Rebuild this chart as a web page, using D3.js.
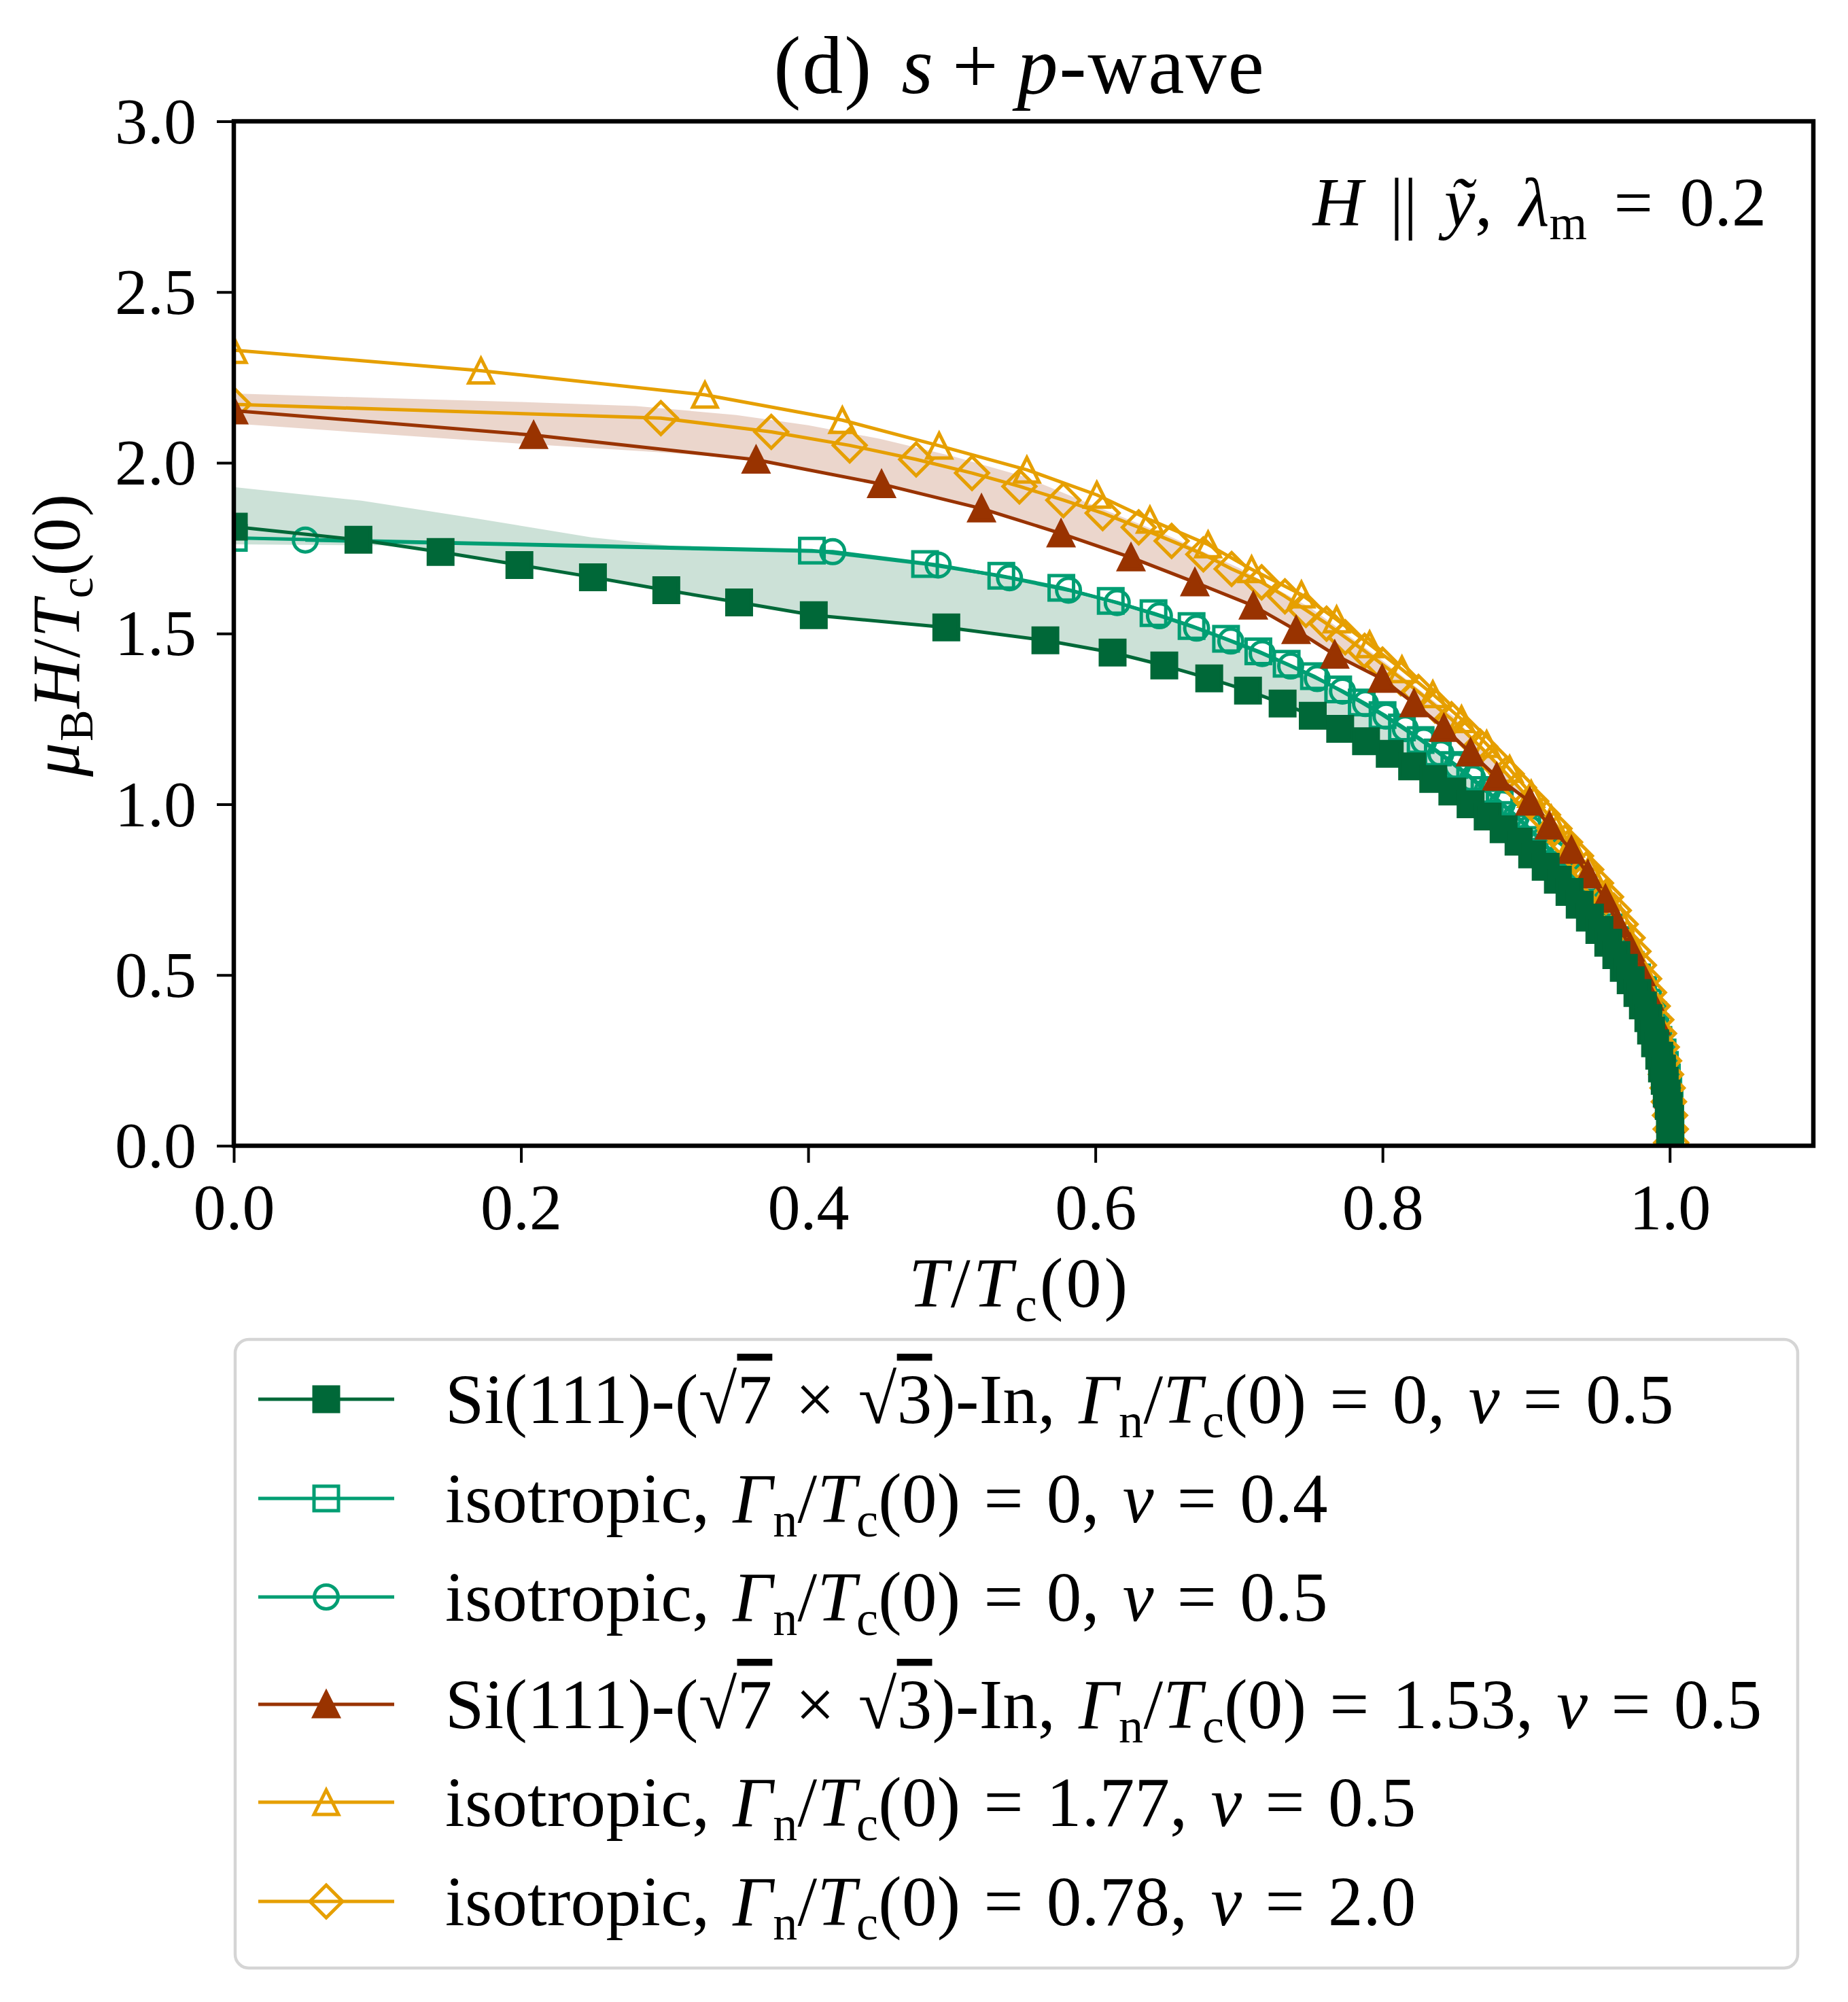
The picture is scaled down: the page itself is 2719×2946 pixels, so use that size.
<!DOCTYPE html>
<html><head><meta charset="utf-8">
<script src="https://cdn.jsdelivr.net/npm/d3@7"></script>
<style>body{margin:0;background:#fff} text{font-family:"Liberation Serif","DejaVu Serif",serif;fill:#000}</style>
</head><body><svg id="c" width="2719" height="2946"></svg>
<script>
// ---------------- data ----------------
const xTicks = [0.0, 0.2, 0.4, 0.6, 0.8, 1.0];
const yTicks = [0.0, 0.5, 1.0, 1.5, 2.0, 2.5, 3.0];

// Si(111)-(√7×√3)-In, Γn/Tc(0)=0, ν=0.5  (filled squares)
const dgT = [0, 0.0868, 0.144, 0.1989, 0.2501, 0.3012, 0.3519, 0.4039, 0.4962, 0.5652, 0.612, 0.648, 0.6793, 0.7063, 0.7304, 0.7514, 0.7705, 0.7885, 0.805, 0.8206, 0.8353, 0.8486, 0.8613, 0.8732, 0.8843, 0.8947, 0.9042, 0.9136, 0.9221, 0.9302, 0.9373, 0.9444, 0.951, 0.9572, 0.9628, 0.968, 0.9728, 0.9775, 0.9813, 0.9851, 0.987, 0.9898, 0.9927, 0.9946, 0.9965, 0.9979, 0.9993, 1.0002, 1.0003, 1.0003];
const dgH = [1.813, 1.7745, 1.7387, 1.7007, 1.6649, 1.6269, 1.591, 1.5536, 1.5178, 1.480, 1.4442, 1.4064, 1.3686, 1.3327, 1.2949, 1.259, 1.221, 1.1847, 1.148, 1.111, 1.074, 1.0375, 1.0, 0.964, 0.927, 0.8906, 0.8534, 0.8169, 0.779, 0.7435, 0.706, 0.668, 0.632, 0.5947, 0.558, 0.521, 0.4846, 0.4474, 0.411, 0.3738, 0.3373, 0.300, 0.2637, 0.2265, 0.190, 0.1528, 0.1164, 0.079, 0.042, 0.005];

// isotropic, Γn/Tc(0)=0, ν=0.4 (open squares)
const tsqT = [0, 0.4026, 0.4814, 0.5345, 0.5763, 0.6107, 0.6405, 0.667, 0.691, 0.7135, 0.7332, 0.7522, 0.7691, 0.7855, 0.800, 0.8135, 0.8265, 0.8385, 0.850, 0.861, 0.871, 0.8816, 0.8917, 0.9008, 0.9098, 0.9178, 0.9257, 0.9326, 0.940, 0.9461, 0.952, 0.9577, 0.9629, 0.9681, 0.9728, 0.9772, 0.9814, 0.9849, 0.9882, 0.990, 0.9921, 0.995, 0.9966, 0.998, 0.999, 0.9999, 1.0003, 1.0005, 1.0004];
const tsqH = [1.78, 1.743, 1.7037, 1.669, 1.634, 1.5954, 1.5596, 1.522, 1.4846, 1.448, 1.4116, 1.375, 1.3363, 1.298, 1.2614, 1.2248, 1.1882, 1.1516, 1.115, 1.0784, 1.0418, 1.0052, 0.9686, 0.932, 0.8954, 0.8588, 0.8222, 0.7856, 0.749, 0.7124, 0.6758, 0.6392, 0.6026, 0.566, 0.5294, 0.4928, 0.4562, 0.4196, 0.383, 0.3464, 0.3098, 0.2732, 0.2366, 0.2, 0.1634, 0.1268, 0.0902, 0.0536, 0.017];

// isotropic, Γn/Tc(0)=0, ν=0.5 (open circles)
const tciT = [0.0498, 0.4171, 0.4905, 0.5402, 0.5813, 0.6152, 0.6446, 0.6705, 0.6943, 0.7162, 0.736, 0.7545, 0.7721, 0.7881, 0.8024, 0.8158, 0.8287, 0.8406, 0.852, 0.8628, 0.8729, 0.8834, 0.8933, 0.9024, 0.9112, 0.9192, 0.9269, 0.9339, 0.9411, 0.9472, 0.953, 0.9586, 0.9638, 0.969, 0.9736, 0.978, 0.982, 0.9855, 0.9885, 0.9904, 0.9926, 0.9953, 0.9969, 0.9982, 0.9992, 1.0, 1.0003, 1.0005, 1.0004];
const tciH = [1.7738, 1.7397, 1.7007, 1.6633, 1.627, 1.5907, 1.552, 1.5158, 1.478, 1.4414, 1.405, 1.368, 1.3314, 1.2948, 1.2582, 1.2216, 1.185, 1.1484, 1.1118, 1.0752, 1.0386, 1.002, 0.9654, 0.9288, 0.8922, 0.8556, 0.819, 0.7824, 0.7458, 0.7092, 0.6726, 0.636, 0.5994, 0.5628, 0.5262, 0.4896, 0.453, 0.4164, 0.3798, 0.3432, 0.3066, 0.27, 0.2334, 0.1968, 0.1602, 0.1236, 0.087, 0.0504, 0.0138];

// Si(111)-(√7×√3)-In, Γn/Tc(0)=1.53, ν=0.5 (filled triangles)
const brT = [0, 0.2088, 0.3637, 0.4511, 0.5207, 0.5761, 0.6248, 0.6693, 0.71, 0.7398, 0.7667, 0.7997, 0.8219, 0.8427, 0.8613, 0.8795, 0.9026, 0.9162, 0.9315, 0.943, 0.9552, 0.9635, 0.9725, 0.98, 0.986, 0.9905, 0.994, 0.9972, 0.9992, 1.0003, 1.0];
const brH = [2.153, 2.081, 2.009, 1.9375, 1.866, 1.793, 1.7227, 1.650, 1.5814, 1.5098, 1.438, 1.367, 1.2955, 1.2232, 1.1516, 1.080, 1.0076, 0.9373, 0.866, 0.7947, 0.723, 0.651, 0.580, 0.508, 0.436, 0.365, 0.293, 0.221, 0.150, 0.078, 0.006];

// isotropic, Γn/Tc(0)=1.77, ν=0.5 (open triangles)
const otT = [0, 0.1721, 0.3281, 0.4238, 0.4912, 0.5523, 0.601, 0.638, 0.6785, 0.7088, 0.7435, 0.768, 0.791, 0.8135, 0.835, 0.855, 0.8725, 0.8885, 0.9035, 0.9175, 0.931, 0.944, 0.9555, 0.9655, 0.9735, 0.9805, 0.9862, 0.9907, 0.9942, 0.997, 0.999, 1.0005, 1.001];
const otH = [2.33, 2.2697, 2.199, 2.1248, 2.050, 1.9795, 1.906, 1.833, 1.7606, 1.688, 1.614, 1.541, 1.468, 1.395, 1.322, 1.249, 1.176, 1.103, 1.030, 0.957, 0.884, 0.811, 0.738, 0.665, 0.592, 0.519, 0.446, 0.373, 0.300, 0.227, 0.154, 0.081, 0.008];

// isotropic, Γn/Tc(0)=0.78, ν=2.0 (open diamonds)
const odT = [0, 0.2974, 0.3743, 0.4289, 0.4752, 0.5141, 0.5471, 0.5777, 0.6051, 0.6302, 0.6531, 0.6752, 0.6949, 0.7158, 0.732, 0.7466, 0.761, 0.774, 0.7875, 0.800, 0.8127, 0.825, 0.8365, 0.848, 0.858, 0.868, 0.8773, 0.8864, 0.895, 0.9035, 0.9117, 0.9197, 0.9271, 0.9347, 0.9418, 0.9486, 0.9556, 0.961, 0.9658, 0.9706, 0.9747, 0.9785, 0.9821, 0.9855, 0.9881, 0.9906, 0.9925, 0.9944, 0.996, 0.9974, 0.9985, 0.9994, 1.0002, 1.0007, 1.001];
const odH = [2.171, 2.131, 2.0905, 2.051, 2.010, 1.970, 1.931, 1.8906, 1.8527, 1.811, 1.771, 1.732, 1.689, 1.650, 1.609, 1.569, 1.529, 1.489, 1.449, 1.409, 1.369, 1.329, 1.289, 1.249, 1.209, 1.169, 1.129, 1.089, 1.049, 1.009, 0.969, 0.929, 0.889, 0.849, 0.809, 0.769, 0.729, 0.689, 0.649, 0.609, 0.569, 0.529, 0.489, 0.449, 0.409, 0.369, 0.329, 0.289, 0.249, 0.209, 0.169, 0.129, 0.089, 0.049, 0.009];

// shaded bands (upper / lower edges)
const gUpT = [0, 0.089, 0.169, 0.249, 0.317, 0.402, 0.4814, 0.5345, 0.5763, 0.6107, 0.6405, 0.667, 0.691, 0.7135, 0.7332, 0.7522, 0.7691, 0.7855, 0.800, 0.8265, 0.850, 0.871, 0.8917, 0.9098, 0.9257, 0.940, 0.952, 0.9629, 0.9728, 0.9814, 0.9882, 0.9921, 0.9966, 0.999, 1.0003];
const gUpH = [1.929, 1.889, 1.837, 1.7815, 1.751, 1.739, 1.700, 1.665, 1.630, 1.591, 1.555, 1.517, 1.480, 1.443, 1.406, 1.370, 1.331, 1.293, 1.256, 1.183, 1.110, 1.037, 0.964, 0.891, 0.818, 0.745, 0.672, 0.598, 0.525, 0.452, 0.379, 0.306, 0.233, 0.16, 0.0];
const gLoT = [0, 0.11, 0.144, 0.1989, 0.2501, 0.3012, 0.3519, 0.4039, 0.4962, 0.5652, 0.612, 0.648, 0.6793, 0.7063, 0.7304, 0.7514, 0.7705, 0.7885, 0.805, 0.8206, 0.8353, 0.8486, 0.8613, 0.8843, 0.9042, 0.9221, 0.9373, 0.951, 0.9628, 0.9728, 0.9813, 0.987, 0.9927, 0.9965, 0.9993, 1.0003];
const gLoH = [1.761, 1.758, 1.7387, 1.7007, 1.6649, 1.6269, 1.591, 1.5536, 1.5178, 1.480, 1.4442, 1.4064, 1.3686, 1.3327, 1.2949, 1.259, 1.221, 1.1847, 1.148, 1.111, 1.074, 1.0375, 1.0, 0.927, 0.8534, 0.779, 0.706, 0.632, 0.558, 0.4846, 0.411, 0.3373, 0.2637, 0.190, 0.1164, 0.0];
const bUpT = [0, 0.1, 0.2, 0.28, 0.35, 0.4, 0.45, 0.5, 0.55, 0.6, 0.65, 0.7, 0.75, 0.8, 0.85, 0.9, 0.95, 0.98, 1.0];
const bUpH = [2.203, 2.19, 2.178, 2.166, 2.14, 2.11, 2.07, 2.02, 1.96, 1.873, 1.788, 1.692, 1.575, 1.421, 1.255, 1.025, 0.73, 0.45, 0.0];
const bLoT = [0, 0.1, 0.2, 0.3, 0.3637, 0.4511, 0.5207, 0.5761, 0.6248, 0.6693, 0.71, 0.7398, 0.7667, 0.7997, 0.8219, 0.8427, 0.8613, 0.8795, 0.9026, 0.9162, 0.9315, 0.943, 0.9552, 0.9725, 0.986, 0.994, 0.9992, 1.0];
const bLoH = [2.115, 2.085, 2.056, 2.03, 2.009, 1.9375, 1.866, 1.793, 1.7227, 1.650, 1.5814, 1.5098, 1.438, 1.367, 1.2955, 1.2232, 1.1516, 1.080, 1.0076, 0.9373, 0.866, 0.7947, 0.723, 0.580, 0.436, 0.293, 0.150, 0.0];

const legendLabels = [
  [{t:'Si(111)-('},{t:'√'},{t:'7',ov:1},{t:' × '},{t:'√'},{t:'3',ov:1},{t:')-In, '},{t:'Γ',it:1},{t:'n',sub:1},{t:'/'},{t:'T',it:1},{t:'c',sub:1},{t:'(0) = 0, '},{t:'ν',it:1},{t:' = 0.5'}],
  [{t:'isotropic, '},{t:'Γ',it:1},{t:'n',sub:1},{t:'/'},{t:'T',it:1},{t:'c',sub:1},{t:'(0) = 0, '},{t:'ν',it:1},{t:' = 0.4'}],
  [{t:'isotropic, '},{t:'Γ',it:1},{t:'n',sub:1},{t:'/'},{t:'T',it:1},{t:'c',sub:1},{t:'(0) = 0, '},{t:'ν',it:1},{t:' = 0.5'}],
  [{t:'Si(111)-('},{t:'√'},{t:'7',ov:1},{t:' × '},{t:'√'},{t:'3',ov:1},{t:')-In, '},{t:'Γ',it:1},{t:'n',sub:1},{t:'/'},{t:'T',it:1},{t:'c',sub:1},{t:'(0) = 1.53, '},{t:'ν',it:1},{t:' = 0.5'}],
  [{t:'isotropic, '},{t:'Γ',it:1},{t:'n',sub:1},{t:'/'},{t:'T',it:1},{t:'c',sub:1},{t:'(0) = 1.77, '},{t:'ν',it:1},{t:' = 0.5'}],
  [{t:'isotropic, '},{t:'Γ',it:1},{t:'n',sub:1},{t:'/'},{t:'T',it:1},{t:'c',sub:1},{t:'(0) = 0.78, '},{t:'ν',it:1},{t:' = 2.0'}]
];

// ---------------- drawing ----------------
const C = {dg:'#006838', teal:'#009e73', orange:'#e69f00', brown:'#993300'};
const svg = d3.select('#c');
svg.append('rect').attr('width',2719).attr('height',2946).attr('fill','#fff');

const X0=344, X1=2668, Y0=1686, Y1=178.5;
const x = d3.scaleLinear().domain([0,1.1]).range([X0,X1]);
const y = d3.scaleLinear().domain([0,3]).range([Y0,Y1]);

svg.append('clipPath').attr('id','clip').append('rect')
  .attr('x',X0).attr('y',Y1).attr('width',X1-X0).attr('height',Y0-Y1);
const plot = svg.append('g').attr('clip-path','url(#clip)');

function band(upT,upH,loT,loH,color){
  const pts = upT.map((t,i)=>[x(t),y(upH[i])]).concat(loT.map((t,i)=>[x(t),y(loH[i])]).reverse());
  plot.append('path').attr('d', d3.line()(pts)+'Z').attr('fill',color).attr('fill-opacity',0.2).attr('stroke','none');
}
band(gUpT,gUpH,gLoT,gLoH,C.dg);
band(bUpT,bUpH,bLoT,bLoH,C.brown);

function markerPath(type){
  if(type==='square'){const s=18;return `M${-s},${-s}H${s}V${s}H${-s}Z`;}
  if(type==='triangle'){const s=18;return `M0,${-s}L${s},${s}L${-s},${s}Z`;}
  if(type==='diamond'){const d=24;return `M0,${-d}L${d},0L0,${d}L${-d},0Z`;}
  if(type==='circle'){const r=17.5;return `M${r},0A${r},${r} 0 1 1 ${-r},0A${r},${r} 0 1 1 ${r},0Z`;}
}
function drawMarker(g, type, cx, cy, color, filled){
  g.append('path').attr('d',markerPath(type)).attr('transform',`translate(${cx},${cy})`)
    .attr('fill', filled?color:'none').attr('stroke',color).attr('stroke-width',5).attr('stroke-linejoin','miter');
}

const series = [
  {T:tsqT,H:tsqH,color:C.teal,m:'square',f:false},
  {T:tciT,H:tciH,color:C.teal,m:'circle',f:false},
  {T:otT,H:otH,color:C.orange,m:'triangle',f:false},
  {T:odT,H:odH,color:C.orange,m:'diamond',f:false},
  {T:brT,H:brH,color:C.brown,m:'triangle',f:true},
  {T:dgT,H:dgH,color:C.dg,m:'square',f:true}
];
const line = d3.line().x(d=>x(d[0])).y(d=>y(d[1]));
series.forEach(s=>{
  const pts = s.T.map((t,i)=>[t,s.H[i]]);
  const g = plot.append('g');
  g.append('path').attr('d',line(pts)).attr('fill','none').attr('stroke',s.color)
    .attr('stroke-width',5).attr('stroke-linejoin','round');
  pts.forEach(p=>drawMarker(g,s.m,x(p[0]),y(p[1]),s.color,s.f));
});

// axes
const fsTick = 96;
const gx = svg.append('g').attr('transform',`translate(0,${Y0})`)
  .call(d3.axisBottom(x).tickValues(xTicks).tickFormat(d3.format('.1f')).tickSize(25).tickPadding(30));
const gy = svg.append('g').attr('transform',`translate(${X0},0)`)
  .call(d3.axisLeft(y).tickValues(yTicks).tickFormat(d3.format('.1f')).tickSize(25).tickPadding(30));
[gx,gy].forEach(g=>{
  g.select('.domain').remove();
  g.selectAll('.tick line').attr('stroke','#000').attr('stroke-width',4);
  g.selectAll('.tick text').attr('font-size',fsTick).attr('font-family','Liberation Serif');
});
gy.selectAll('.tick text').attr('dy','0.33em');
// spines
svg.append('rect').attr('x',X0).attr('y',Y1).attr('width',X1-X0).attr('height',Y0-Y1)
  .attr('fill','none').attr('stroke','#000').attr('stroke-width',6.5);

function rich(sel, segs, fs){
  let prevSub=false;
  segs.forEach(s=>{
    const t = sel.append('tspan').text(s.t);
    if(s.it) t.attr('font-style','italic');
    if(s.sub){ t.attr('font-size',fs*0.7); if(!prevSub) t.attr('dy',fs*0.2); prevSub=true; }
    else { if(prevSub) t.attr('dy',-fs*0.2); prevSub=false; }
    if(s.ov) t.style('text-decoration','overline');
  });
}

// title
const title = svg.append('text').attr('x',1500).attr('y',137).attr('text-anchor','middle')
  .attr('font-size',120).attr('letter-spacing',2).attr('word-spacing',10);
rich(title,[{t:'(d) '},{t:'s',it:1},{t:'\u2009+\u2009'},{t:'p',it:1},{t:'-wave'}],120);

// annotation
const ann = svg.append('text').attr('x',2599).attr('y',332).attr('text-anchor','end')
  .attr('font-size',102).attr('word-spacing',14);
rich(ann,[{t:'H',it:1},{t:' || '},{t:'ỹ',it:1},{t:', '},{t:'λ',it:1},{t:'m',sub:1},{t:' = 0.2'}],102);

// axis labels
const xl = svg.append('text').attr('x',1500).attr('y',1923).attr('text-anchor','middle')
  .attr('font-size',104).attr('letter-spacing',4);
rich(xl,[{t:'T',it:1},{t:'/'},{t:'T',it:1},{t:'c',sub:1},{t:'(0)'}],104);
const yl = svg.append('text').attr('transform','translate(116,934) rotate(-90)').attr('text-anchor','middle')
  .attr('font-size',100).attr('letter-spacing',2);
rich(yl,[{t:'μ',it:1},{t:'B',sub:1},{t:'H',it:1},{t:'/'},{t:'T',it:1},{t:'c',sub:1},{t:'(0)'}],100);

// legend
const lg = svg.append('g');
lg.append('rect').attr('x',346).attr('y',1971).attr('width',2299).attr('height',925).attr('rx',20)
  .attr('fill','#fff').attr('stroke','#d5d5d5').attr('stroke-width',4.5);
const rowY = [2059, 2205, 2350, 2508, 2652, 2798];
const legendOrder = [5,0,1,4,2,3];
legendOrder.forEach((si,i)=>{
  const s = series[si];
  lg.append('line').attr('x1',380).attr('x2',580).attr('y1',rowY[i]).attr('y2',rowY[i])
    .attr('stroke',s.color).attr('stroke-width',5);
  drawMarker(lg,s.m,480,rowY[i],s.color,s.f);
  const t = lg.append('text').attr('x',655).attr('y',rowY[i]+35).attr('font-size',103)
    .attr('word-spacing',8).attr('letter-spacing',0.3);
  rich(t,legendLabels[i],103);
});
</script></body></html>
